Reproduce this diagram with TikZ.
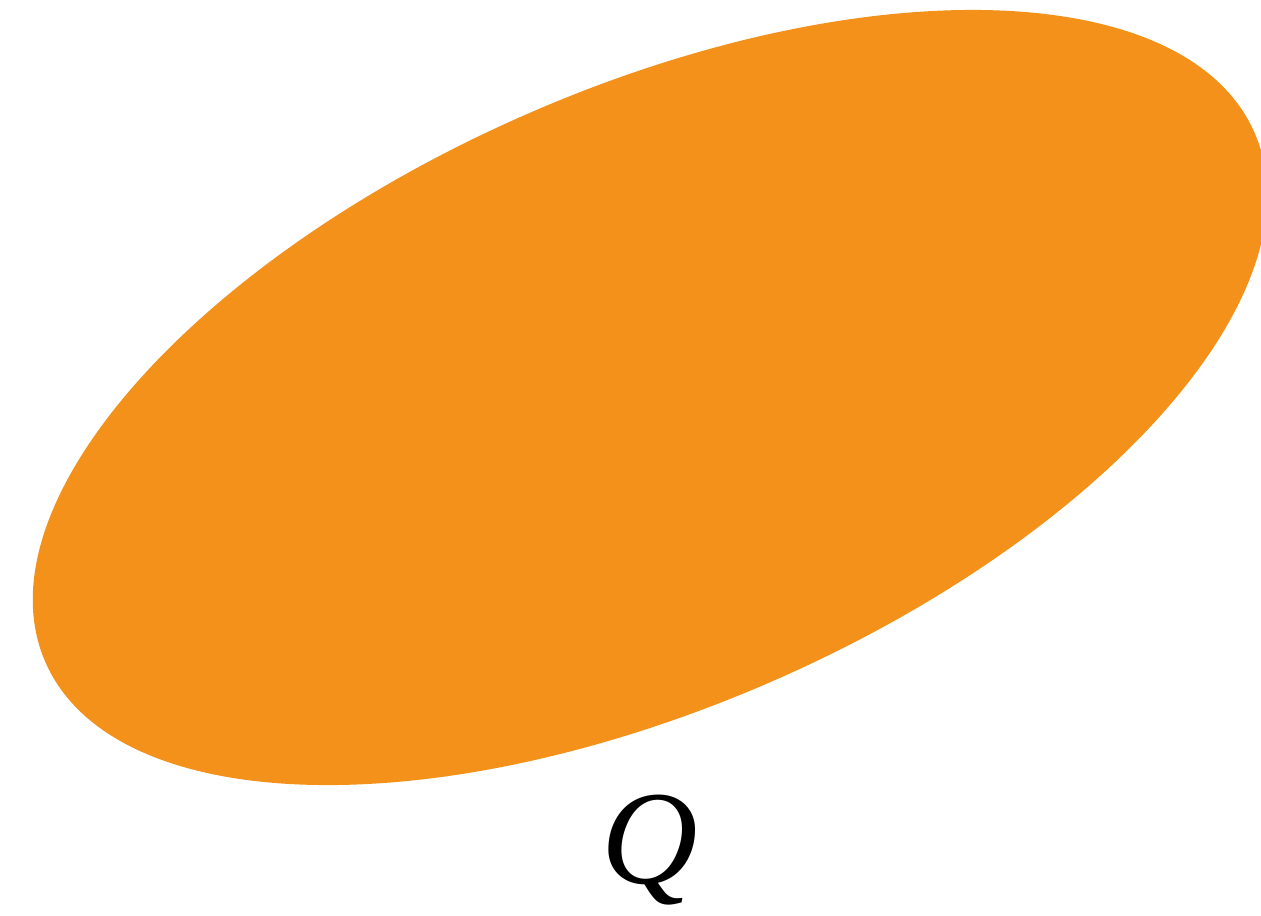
\documentclass[tikz,border=0pt]{standalone}
\usepackage{fontspec}
\usepackage{tikz}
\usetikzlibrary{positioning}
\newfontfamily\labelfont{Liberation Serif}
\definecolor{setorange}{RGB}{243,145,26}

\begin{document}
\begin{tikzpicture}[
    x=0.01cm, y=0.01cm,
    setfill/.style={fill=setorange},
    setlabel/.style={font=\labelfont\itshape\fontsize{38}{46}\selectfont, inner sep=0pt, anchor=base}
]
\clip (0,0) rectangle (1261,915);
\coordinate (qc) at (650,517.5);
\fill[setfill, rotate around={23.65:(qc)}] (qc) ellipse (660 and 309);
\node[setlabel] (qlab) at (650,32) {Q};
\end{tikzpicture}
\end{document}
